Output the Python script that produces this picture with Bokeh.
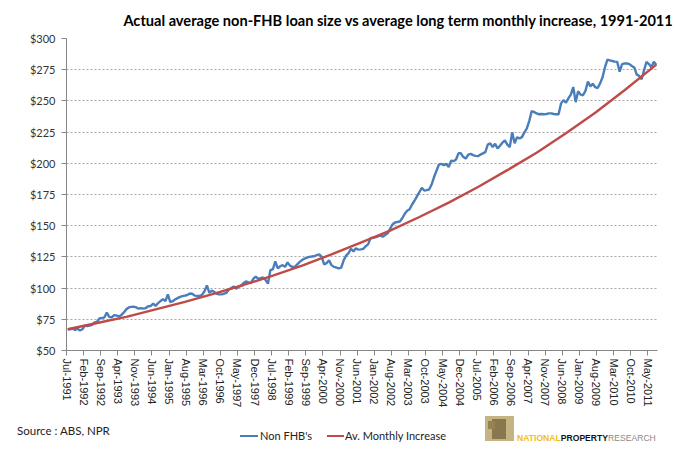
from bokeh.plotting import figure
from bokeh.layouts import column
from bokeh.models import FixedTicker, ColumnDataSource, Range1d, Div
from bokeh.embed import file_html
from bokeh.resources import INLINE

# Monthly average non-FHB loan size ($'000), Jul-1991 .. Aug-2011
blue = [
    67, 67, 67.5, 66.5, 67.5, 66, 67, 70, 69.5, 70, 70.5, 72.5,
    73, 75.7, 76, 76.5, 80.4, 77, 76.5, 78.3, 78, 77.3, 78.5, 80.5,
    83, 84.5, 85, 85.2, 84.5, 83.6, 84, 83.6, 84, 85.5, 85.7, 87.5,
    85.7, 88, 89.6, 91, 89.6, 94.9, 88.8, 89.5, 91, 92, 93, 93.5,
    94, 94.5, 95.7, 95.5, 94, 93.8, 93.8, 94.5, 97.5, 102.2, 96.2, 98,
    97, 95.5, 95, 95, 95.5, 96.2, 98.8, 100, 101.4, 99.5, 101, 102.2,
    104, 105.3, 104.5, 104, 107.5, 109.2, 107.4, 108, 108.5, 106.6, 103.5, 114.5,
    115, 121.5, 115.8, 117.5, 118.4, 117, 120.6, 118, 117, 117, 119, 121,
    122.5, 123.7, 124.5, 125, 125.3, 125.5, 126.5, 127.1, 125, 119, 120, 122.3,
    118.4, 117, 116.5, 115.8, 116.5, 122.3, 126, 128, 131.5, 129.4, 132, 130.8,
    131, 131.5, 133.5, 135, 140, 140.5, 140.7, 141.5, 142, 141.2, 142.5, 143.9,
    147.5, 151, 152.6, 153, 153.4, 156, 159.5, 162, 163.2, 167, 170, 173.5,
    177, 180.3, 178.2, 178.5, 179, 183, 189, 194, 199, 199.5, 198.6, 199.5,
    197, 202, 201.7, 203, 208, 208, 205, 203.8, 207, 207.5, 206.5, 206,
    205.7, 207, 208, 209, 215, 216, 213, 215.6, 212, 214, 216.5, 218.3,
    215, 213, 224.8, 216, 220.9, 220, 221, 224.8, 228, 234, 241.9, 241,
    240, 239.3, 239.5, 239.3, 239.5, 240, 240, 239.5, 239.3, 239.3, 248, 250.6,
    248.5, 252, 255, 261.1, 249, 257.7, 255, 254.5, 258, 265.6, 261.6, 263.7,
    261, 260.3, 264, 269, 277, 283.1, 282.5, 282, 281.5, 281.3, 273.4, 279.5,
    280, 280, 279.5, 278, 276.8, 271, 270, 267.3, 274.7, 281.3, 279.5, 277,
    281.3, 278.7,
]

# Average long-term monthly increase, read each July 1991..2011 and Aug-2011
red_months = [0, 12, 24, 36, 48, 60, 72, 84, 96, 108, 120, 132, 144, 156,
              168, 180, 192, 204, 216, 228, 240, 241]
red = [67, 72, 77, 83, 89, 95.5, 102.5, 110, 118, 127, 136.5, 146, 157, 168.5,
       181, 194.5, 208.5, 224, 240.5, 258.5, 277.5, 279]

tick_labels = ["Jul-1991", "Feb-1992", "Sep-1992", "Apr-1993", "Nov-1993",
               "Jun-1994", "Jan-1995", "Aug-1995", "Mar-1996", "Oct-1996",
               "May-1997", "Dec-1997", "Jul-1998", "Feb-1999", "Sep-1999",
               "Apr-2000", "Nov-2000", "Jun-2001", "Jan-2002", "Aug-2002",
               "Mar-2003", "Oct-2003", "May-2004", "Dec-2004", "Jul-2005",
               "Feb-2006", "Sep-2006", "Apr-2007", "Nov-2007", "Jun-2008",
               "Jan-2009", "Aug-2009", "Mar-2010", "Oct-2010", "May-2011"]
y_ticks = [50, 75, 100, 125, 150, 175, 200, 225, 250, 275, 300]
y_labels = ["$50", "$75", "$100", "$125", "$150", "$175", "$200", "$225",
            "$250", "$275", "$300"]
series_names = ["Non FHB's", "Av. Monthly Increase"]
series_colors = ["#4a7ebb", "#be4b48"]
title_text = "Actual average non-FHB loan size vs average long term monthly increase, 1991-2011"
source_text = "Source : ABS, NPR"
logo_words = ["NATIONAL", "PROPERTY", "RESEARCH"]

n = len(blue)
blue_src = ColumnDataSource(dict(x=[i + 0.5 for i in range(n)], y=blue))
red_src = ColumnDataSource(dict(x=[m + 0.5 for m in red_months], y=red))

p = figure(width=681, height=410, output_backend="svg", toolbar_location=None,
           x_range=Range1d(0, n), y_range=Range1d(50, 300),
           min_border_left=66, min_border_right=24, min_border_top=35,
           min_border_bottom=58)
p.outline_line_color = None
p.title.text = title_text
p.title.align = "right"
p.title.text_font = "Lato"
p.title.text_font_style = "bold"
p.title.text_font_size = "14.6px"
p.title.text_color = "#000000"
p.title.standoff = 19
p.title.offset = -16

p.xgrid.grid_line_color = None
p.ygrid.ticker = FixedTicker(ticks=y_ticks)
p.ygrid.grid_line_color = "#a6a6a6"
p.ygrid.grid_line_dash = "2 2"
p.ygrid.grid_line_width = 1

ticks_x = [7 * k for k in range(len(tick_labels))]
p.xaxis.ticker = FixedTicker(ticks=ticks_x)
p.xaxis.major_label_overrides = {t: l for t, l in zip(ticks_x, tick_labels)}
p.xaxis.major_label_orientation = "vertical"
p.xaxis.major_label_text_font = "Liberation Sans"
p.xaxis.major_label_text_font_size = "11px"
p.xaxis.major_label_text_color = "#222222"
p.xaxis.major_label_standoff = 3
p.xaxis.minor_tick_line_color = None
p.xaxis.major_tick_out = 5
p.xaxis.major_tick_in = 0
p.xaxis.axis_line_color = "#868686"
p.xaxis.major_tick_line_color = "#868686"

p.yaxis.ticker = FixedTicker(ticks=y_ticks)
p.yaxis.major_label_overrides = {t: l for t, l in zip(y_ticks, y_labels)}
p.yaxis.major_label_text_font = "Lato"
p.yaxis.major_label_text_font_size = "11px"
p.yaxis.major_label_text_color = "#333333"
p.yaxis.major_label_standoff = 6
p.yaxis.minor_tick_line_color = None
p.yaxis.major_tick_out = 5
p.yaxis.major_tick_in = 0
p.yaxis.axis_line_color = "#868686"
p.yaxis.major_tick_line_color = "#868686"

p.line("x", "y", source=blue_src, line_color=series_colors[0], line_width=2.4)
p.line("x", "y", source=red_src, line_color=series_colors[1], line_width=2.4)

# ---- footer: source note, legend and logo
def span(left, top, extra):
    return f'<span style="position:absolute;left:{left}px;top:{top}px;{extra}"></span>'

def text(left, top, txt, extra):
    return (f'<span style="position:absolute;left:{left}px;top:{top}px;'
            f'white-space:nowrap;{extra}">{txt}</span>')

html = ('<div style="position:relative;width:681px;height:40px;'
        'font-family:Lato, sans-serif;color:#222222;">'
        + text(12, 8, source_text, "font-size:11.5px;line-height:16px;")
        + span(235, 20, f"width:18px;height:2.4px;background:{series_colors[0]};")
        + text(255, 13, series_names[0], "font-size:11px;line-height:16px;")
        + span(322, 20, f"width:17px;height:2.4px;background:{series_colors[1]};")
        + text(340, 13, series_names[1], "font-size:11px;line-height:16px;")
        + span(480, 1, "width:29px;height:25px;background:#c4b482;")
        + span(487, 4, "width:14px;height:20px;background:#7a6840;opacity:0.8;")
        + span(483, 6, "width:7px;height:8px;background:#968250;")
        + '<span style="position:absolute;left:512px;top:18px;white-space:nowrap;'
          'font-family:\'Liberation Sans\', sans-serif;font-size:8.6px;line-height:10px;">'
        + f'<b style="color:#f0c020">{logo_words[0]}</b>'
        + f'<b style="color:#111111">{logo_words[1]}</b>'
        + f'<span style="color:#8a8a8a">{logo_words[2]}</span></span>'
        + '</div>')

footer = Div(text=html, width=681, height=40)

layout = column(p, footer, spacing=0)
open("out.html", "w").write(file_html(layout, INLINE))
